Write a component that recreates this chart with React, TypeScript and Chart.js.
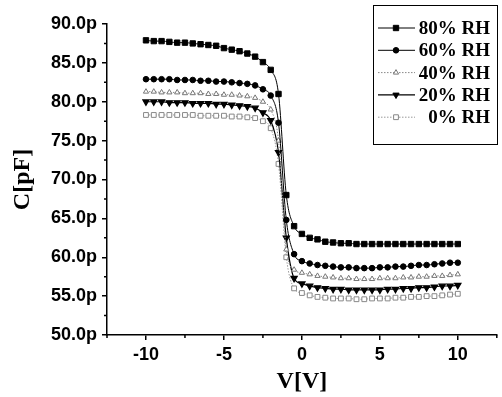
import React, { useEffect, useRef } from 'react';
import { Chart, registerables } from 'chart.js';

Chart.register(...registerables);

const voltage = [
  -10, -9.5, -9, -8.5, -8, -7.5, -7, -6.5, -6, -5.5, -5, -4.5, -4, -3.5, -3, -2.5, -2, -1.5, -1, -0.5,
  0, 0.5, 1, 1.5, 2, 2.5, 3, 3.5, 4, 4.5, 5, 5.5, 6, 6.5, 7, 7.5, 8, 8.5, 9, 9.5, 10,
];

const rh80 = [
  87.9, 87.8, 87.8, 87.7, 87.6, 87.6, 87.5, 87.4, 87.3, 87.2, 86.9, 86.7, 86.5, 86.2, 85.8, 85.1, 84.1, 81.0, 68.0, 64.0,
  63.0, 62.5, 62.3, 62.0, 61.9, 61.8, 61.8, 61.7, 61.7, 61.7, 61.7, 61.7, 61.7, 61.7, 61.7, 61.7, 61.7, 61.7, 61.7, 61.7, 61.7,
];
const rh60 = [
  82.9, 82.9, 82.9, 82.9, 82.8, 82.8, 82.8, 82.7, 82.7, 82.6, 82.6, 82.5, 82.4, 82.3, 82.1, 81.6, 80.8, 77.3, 64.8, 60.4,
  59.5, 59.2, 59.0, 58.9, 58.8, 58.7, 58.7, 58.6, 58.6, 58.6, 58.7, 58.7, 58.8, 58.8, 58.9, 59.0, 59.0, 59.1, 59.2, 59.3, 59.3,
];
const rh40 = [
  81.3, 81.3, 81.2, 81.2, 81.2, 81.1, 81.1, 81.1, 81.0, 81.0, 80.9, 80.9, 80.8, 80.7, 80.5, 80.0, 79.0, 75.0, 61.0, 58.4,
  58.0, 57.8, 57.6, 57.5, 57.4, 57.3, 57.3, 57.2, 57.2, 57.2, 57.3, 57.3, 57.3, 57.4, 57.4, 57.5, 57.5, 57.6, 57.6, 57.7, 57.8,
];
const rh20 = [
  80.0, 80.0, 80.0, 79.9, 79.9, 79.9, 79.8, 79.8, 79.8, 79.7, 79.7, 79.6, 79.5, 79.4, 79.2, 78.6, 77.6, 73.5, 62.5, 57.3,
  56.6, 56.3, 56.1, 56.0, 55.9, 55.9, 55.8, 55.8, 55.8, 55.8, 55.8, 55.9, 55.9, 56.0, 56.0, 56.1, 56.1, 56.2, 56.3, 56.3, 56.4,
];
const rh0 = [
  78.3, 78.3, 78.3, 78.3, 78.3, 78.3, 78.3, 78.2, 78.2, 78.2, 78.2, 78.1, 78.1, 78.0, 77.9, 77.5, 76.6, 72.0, 60.0, 56.0,
  55.4, 55.1, 54.9, 54.8, 54.7, 54.7, 54.7, 54.6, 54.6, 54.7, 54.7, 54.7, 54.8, 54.8, 54.9, 54.9, 55.0, 55.0, 55.1, 55.2, 55.3,
];

const seriesLabels = ['80% RH', '60% RH', '40% RH', '20% RH', '0% RH'];
const xTickValues = [-10, -5, 0, 5, 10];
const xMinorValues = [-12.5, -7.5, -2.5, 2.5, 7.5, 12.5];
const yTickValues = [50, 55, 60, 65, 70, 75, 80, 85, 90];
const yMinorValues = [52.5, 57.5, 62.5, 67.5, 72.5, 77.5, 82.5, 87.5];

const SANS = '"Liberation Sans", Arial, sans-serif';
const SERIF = '"Liberation Serif", "Times New Roman", serif';

function drawMarker(ctx: CanvasRenderingContext2D, style: string, x: number, y: number, r: number, rot: number, fill: string, stroke: string) {
  ctx.beginPath();
  if (style === 'rect') {
    const h = r / Math.SQRT2;
    ctx.rect(x - h, y - h, 2 * h, 2 * h);
  } else if (style === 'triangle') {
    const a = (rot * Math.PI) / 180;
    for (let i = 0; i < 3; i++) {
      const t = a + (i * 2 * Math.PI) / 3;
      const px = x + Math.sin(t) * r;
      const py = y - Math.cos(t) * r;
      if (i === 0) ctx.moveTo(px, py);
      else ctx.lineTo(px, py);
    }
    ctx.closePath();
  } else {
    ctx.arc(x, y, r, 0, Math.PI * 2);
  }
  ctx.fillStyle = fill;
  ctx.fill();
  ctx.strokeStyle = stroke;
  ctx.lineWidth = 1;
  ctx.stroke();
}

const minorTicksPlugin = {
  id: 'minorTicks',
  afterDraw(chart: any) {
    const { ctx, chartArea, scales } = chart;
    const xs = scales.x;
    const ys = scales.y;
    ctx.save();
    ctx.strokeStyle = '#000';
    ctx.lineWidth = 1.5;
    ctx.beginPath();
    for (const v of xMinorValues) {
      const px = xs.getPixelForValue(v);
      ctx.moveTo(px, chartArea.bottom);
      ctx.lineTo(px, chartArea.bottom + 3);
    }
    for (const v of yMinorValues) {
      const py = ys.getPixelForValue(v);
      ctx.moveTo(chartArea.left - 3, py);
      ctx.lineTo(chartArea.left, py);
    }
    ctx.stroke();
    ctx.restore();
  },
};

const legendPlugin = {
  id: 'boxLegend',
  afterDraw(chart: any) {
    const { ctx } = chart;
    const left = 373;
    const top = 5;
    const w = 124;
    const h = 139;
    ctx.save();
    ctx.strokeStyle = '#000';
    ctx.lineWidth = 1;
    ctx.strokeRect(left + 0.5, top + 0.5, w, h);
    ctx.font = `bold 19px ${SERIF}`;
    ctx.textAlign = 'right';
    ctx.textBaseline = 'middle';
    chart.data.datasets.forEach((ds: any, i: number) => {
      const y = 28 + i * 22.3;
      ctx.save();
      ctx.strokeStyle = ds.borderColor;
      ctx.lineWidth = ds.borderWidth;
      ctx.setLineDash(ds.borderDash || []);
      ctx.beginPath();
      ctx.moveTo(378, y);
      ctx.lineTo(415, y);
      ctx.stroke();
      ctx.restore();
      drawMarker(ctx, ds.pointStyle, 396, y, ds.pointRadius, ds.pointRotation || 0, ds.pointBackgroundColor, ds.pointBorderColor);
      ctx.fillStyle = '#000';
      ctx.fillText(ds.label, 490, y + 1);
    });
    ctx.restore();
  },
};

export default function App() {
  const canvasRef = useRef<HTMLCanvasElement | null>(null);

  useEffect(() => {
    document.body.style.margin = '0';
    const canvas = canvasRef.current;
    if (!canvas) return;

    const mk = (values: number[]) => voltage.map((v, i) => ({ x: v, y: values[i] }));

    const datasets = [
      {
        label: seriesLabels[0], data: mk(rh80), borderColor: '#000', borderWidth: 1,
        pointStyle: 'rect', pointRadius: 3.8, pointBackgroundColor: '#000', pointBorderColor: '#000', pointRotation: 0,
      },
      {
        label: seriesLabels[1], data: mk(rh60), borderColor: '#000', borderWidth: 1,
        pointStyle: 'circle', pointRadius: 2.8, pointBackgroundColor: '#000', pointBorderColor: '#000', pointRotation: 0,
      },
      {
        label: seriesLabels[2], data: mk(rh40), borderColor: '#888', borderWidth: 1, borderDash: [1.5, 1.5],
        pointStyle: 'triangle', pointRadius: 3, pointBackgroundColor: '#fff', pointBorderColor: '#777', pointRotation: 0,
      },
      {
        label: seriesLabels[3], data: mk(rh20), borderColor: '#000', borderWidth: 1.2,
        pointStyle: 'triangle', pointRadius: 3.6, pointBackgroundColor: '#000', pointBorderColor: '#000', pointRotation: 180,
      },
      {
        label: seriesLabels[4], data: mk(rh0), borderColor: '#999', borderWidth: 1, borderDash: [1.5, 1.5],
        pointStyle: 'rect', pointRadius: 3.4, pointBackgroundColor: '#fff', pointBorderColor: '#888', pointRotation: 0,
      },
    ];

    const chart = new Chart(canvas, {
      type: 'line',
      data: { datasets: datasets as any },
      options: {
        animation: false,
        responsive: false,
        maintainAspectRatio: false,
        layout: { padding: { left: 0, top: 24, right: 4, bottom: 0 } },
        elements: { line: { cubicInterpolationMode: 'monotone' } },
        plugins: { legend: { display: false }, tooltip: { enabled: false } },
        scales: {
          x: {
            type: 'linear',
            min: -12.5,
            max: 12.5,
            afterFit: (s: any) => { s.height = 62; },
            afterBuildTicks: (s: any) => { s.ticks = xTickValues.map((v) => ({ value: v })); },
            grid: { drawOnChartArea: false, drawTicks: true, tickLength: 5, color: '#000', lineWidth: 1.5 },
            border: { display: true, color: '#000', width: 1.5 },
            ticks: {
              color: '#000', padding: 4, maxRotation: 0,
              font: { family: SANS, weight: 'bold', size: 18 },
              callback: (v: any) => String(v),
            },
            title: {
              display: true, text: 'V[V]', color: '#000',
              font: { family: SERIF, weight: 'bold', size: 24 },
              padding: { top: 0, bottom: 1 },
            },
          },
          y: {
            type: 'linear',
            min: 50,
            max: 90,
            afterFit: (s: any) => { s.width = 107; },
            afterBuildTicks: (s: any) => { s.ticks = yTickValues.map((v) => ({ value: v })); },
            grid: { drawOnChartArea: false, drawTicks: true, tickLength: 5, color: '#000', lineWidth: 1.5 },
            border: { display: true, color: '#000', width: 1.5 },
            ticks: {
              color: '#000', padding: 5,
              font: { family: SANS, weight: 'bold', size: 18 },
              callback: (v: any) => Number(v).toFixed(1) + 'p',
            },
            title: {
              display: true, text: 'C[pF]', color: '#000',
              font: { family: SERIF, weight: 'bold', size: 24 },
              padding: { top: 8, bottom: 0 },
            },
          },
        },
      },
      plugins: [minorTicksPlugin, legendPlugin],
    } as any);

    return () => chart.destroy();
  }, []);

  return (
    <div style={{ width: 502, height: 397, background: '#fff' }}>
      <canvas ref={canvasRef} width={502} height={397} />
    </div>
  );
}
